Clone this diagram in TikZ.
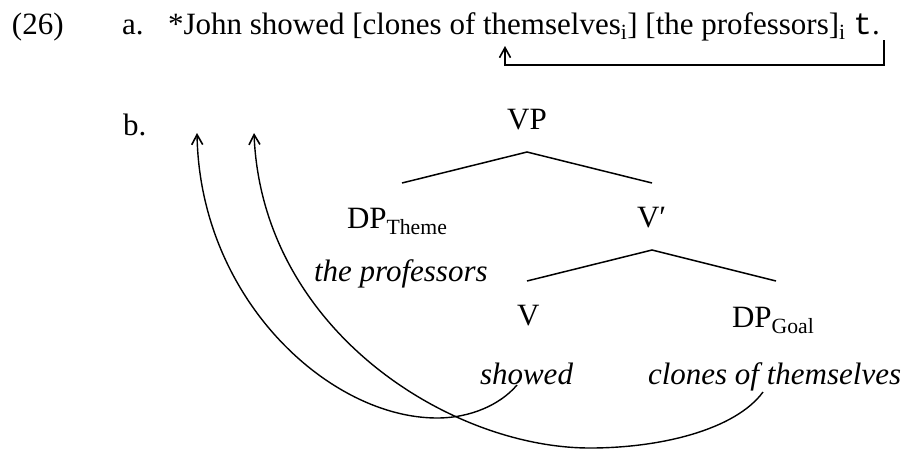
\documentclass[tikz,border=0pt]{standalone}
\usepackage{fontspec}
\setmainfont{Liberation Serif}
\setmonofont{Liberation Mono}
\usetikzlibrary{arrows.meta}
\begin{document}
\begin{tikzpicture}[x=1pt,y=-1pt,
  txt/.style={inner sep=0pt,outer sep=0pt,anchor=base west,font=\fontsize{31}{36}\selectfont},
  lab/.style={inner sep=0pt,outer sep=0pt,anchor=base,font=\fontsize{31}{36}\selectfont},
  branch/.style={line width=1.5pt},
  mv/.style={line width=1.4pt,-{Straight Barb[length=10pt,width=11pt,line width=1.6pt]}}]
\useasboundingbox (0,0) rectangle (908,451);
% line a
\node[txt] (num) at (12,34) {(26)};
\node[txt] (la) at (122,34) {a.};
\node[txt] (sent) at (168,34) {*John showed [clones of themselves\textsubscript{i}] [the professors]\textsubscript{i} \texttt{t}.};
\coordinate (tfoot) at (884,40);
\coordinate (ttarget) at (505,46);
\draw[mv] (tfoot) -- (884,65) -| (ttarget);
% b
\node[txt] (lb) at (123,135) {b.};
\node[lab] (vp) at (527,129) {VP};
\node[txt] (dpt) at (347,228) {DP\textsubscript{Theme}};
\node[txt] (vbar) at (637,227) {V′};
\node[txt] (prof) at (314,281) {\itshape the professors};
\node[txt] (v) at (517,325) {V};
\node[txt] (dpg) at (732,327) {DP\textsubscript{Goal}};
\node[txt] (showed) at (480,384) {\itshape showed};
\node[txt] (clones) at (648,384) {\itshape clones of themselves};
% branches
\coordinate (vpt) at (527,152);
\coordinate (dptt) at (402,183);
\coordinate (vbart) at (652,183);
\coordinate (vbarb) at (652,250);
\coordinate (vt) at (527,281);
\coordinate (dpgt) at (776,281);
\draw[branch] (dptt) -- (vpt) -- (vbart);
\draw[branch] (vt) -- (vbarb) -- (dpgt);
% movement arrows
\coordinate (s1) at (517,385);
\coordinate (e1) at (197,133);
\coordinate (s2) at (763,392);
\coordinate (e2) at (254,133);
\draw[mv] (s1) .. controls (500,405) and (470,418) .. (437,418)
  .. controls (330,418) and (200,300) .. (e1);
\draw[mv] (s2) .. controls (735,430) and (660,448) .. (590,448)
  .. controls (450,448) and (262,330) .. (e2);
\end{tikzpicture}
\end{document}
